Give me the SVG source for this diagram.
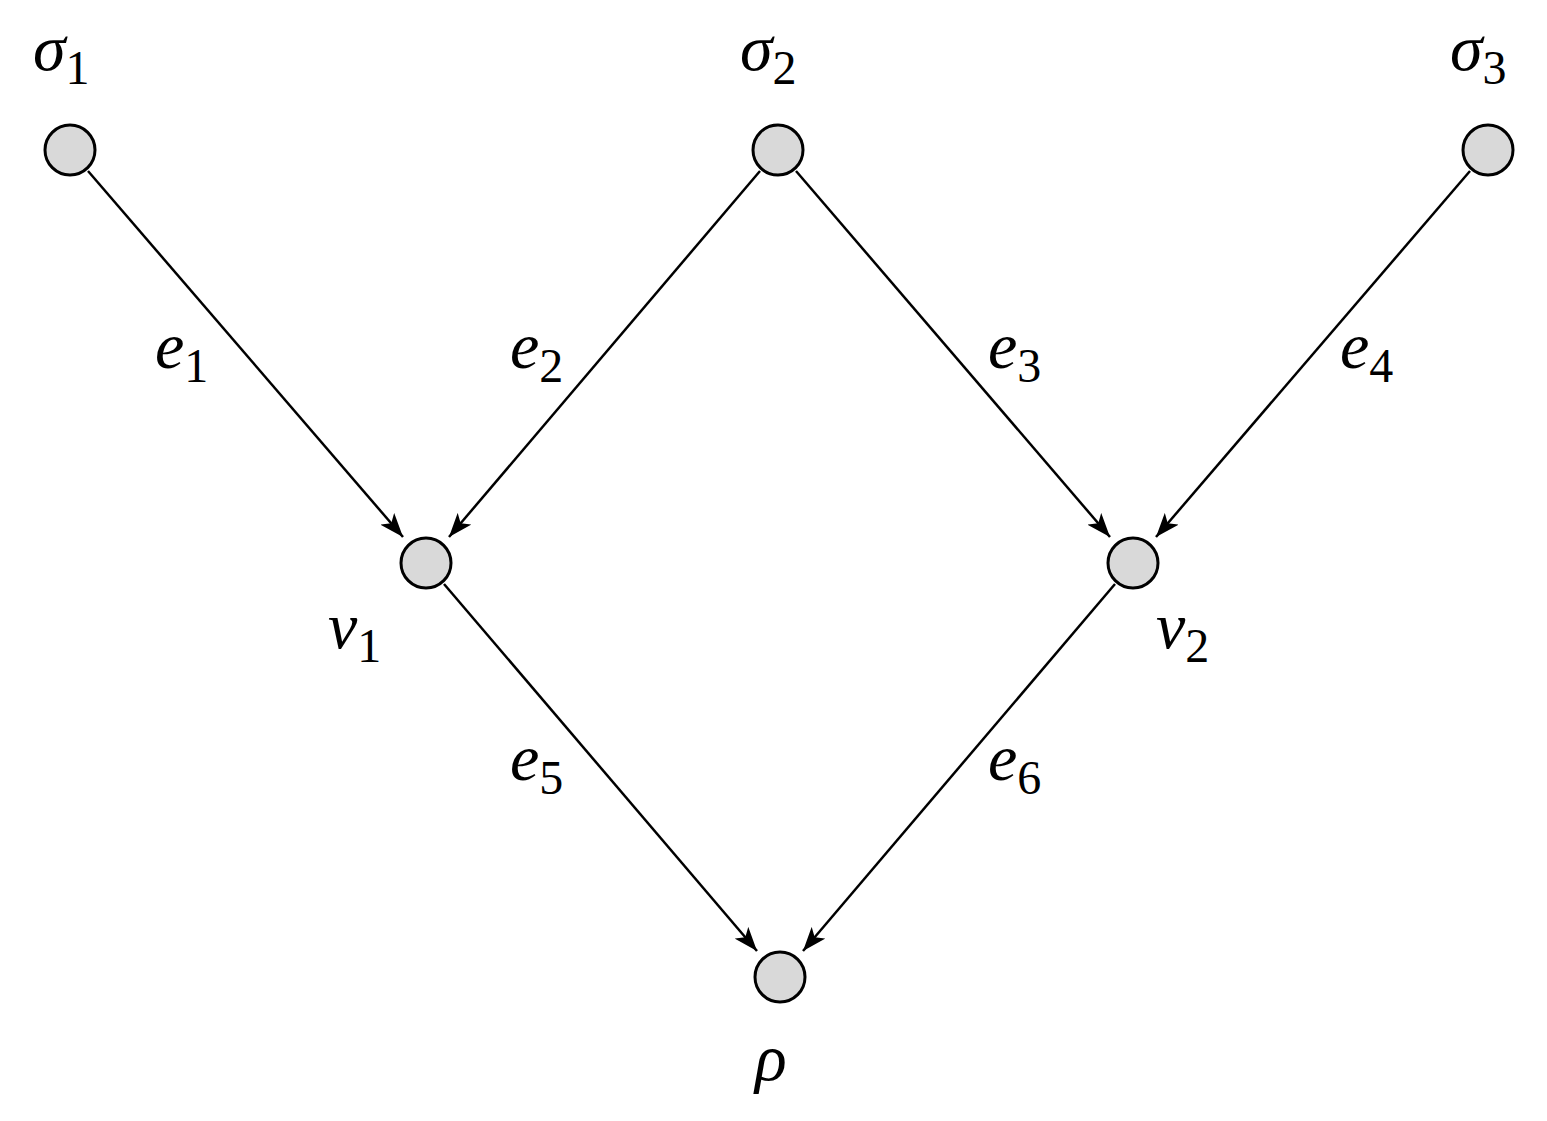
<svg xmlns="http://www.w3.org/2000/svg" width="1547" height="1121" viewBox="0 0 1547 1121">
<style>
.n{fill:#d9d9d9;stroke:#000;stroke-width:3}
.e{stroke:#000;stroke-width:2.5;fill:none;marker-end:url(#a)}
.t{font-family:"Liberation Serif","DejaVu Serif",serif;font-style:italic;font-size:66px}
.s{font-style:normal;font-size:48px}
</style>
<defs>
<marker id="a" viewBox="0 0 24 18" refX="24" refY="9" markerWidth="24" markerHeight="18" orient="auto" markerUnits="userSpaceOnUse">
<path d="M0,0 L24,9 L0,18 L6,9 Z" fill="#000"/>
</marker>
</defs>
<rect width="1547" height="1121" fill="#fff"/>
<g id="connectors">
<line class="e" x1="88" y1="171" x2="403" y2="537"/>
<line class="e" x1="760" y1="171" x2="449" y2="537"/>
<line class="e" x1="796" y1="171" x2="1110" y2="537"/>
<line class="e" x1="1470" y1="171" x2="1156" y2="537"/>
<line class="e" x1="444" y1="584" x2="757" y2="951"/>
<line class="e" x1="1115" y1="584" x2="803" y2="951"/>
</g>
<g id="sigma1"><circle class="n" cx="70" cy="150" r="25"/><text class="t" x="33" y="70">σ<tspan class="s" dy="14">1</tspan></text></g>
<g id="sigma2"><circle class="n" cx="778" cy="150" r="25"/><text class="t" x="740" y="70">σ<tspan class="s" dy="14">2</tspan></text></g>
<g id="sigma3"><circle class="n" cx="1488" cy="150" r="25"/><text class="t" x="1450" y="70">σ<tspan class="s" dy="14">3</tspan></text></g>
<g id="v1"><circle class="n" cx="426" cy="563" r="25"/><text class="t" x="328" y="648">v<tspan class="s" dy="14">1</tspan></text></g>
<g id="v2"><circle class="n" cx="1133" cy="563" r="25"/><text class="t" x="1156" y="648">v<tspan class="s" dy="14">2</tspan></text></g>
<g id="rho"><circle class="n" cx="780" cy="977" r="25"/><text class="t" x="755" y="1080">ρ</text></g>
<g id="labels">
<text class="t" x="155" y="368">e<tspan class="s" dy="14">1</tspan></text>
<text class="t" x="510" y="368">e<tspan class="s" dy="14">2</tspan></text>
<text class="t" x="988" y="368">e<tspan class="s" dy="14">3</tspan></text>
<text class="t" x="1340" y="368">e<tspan class="s" dy="14">4</tspan></text>
<text class="t" x="510" y="780">e<tspan class="s" dy="14">5</tspan></text>
<text class="t" x="988" y="780">e<tspan class="s" dy="14">6</tspan></text>
</g>
</svg>
